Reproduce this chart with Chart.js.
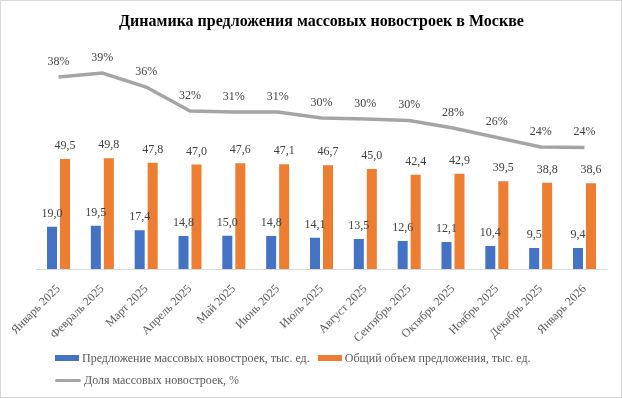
<!DOCTYPE html>
<html>
<head>
<meta charset="utf-8">
<script src="https://cdn.jsdelivr.net/npm/chart.js@4"></script>
<style>
  body { margin: 0; background: #fff; }
  #wrap { position: relative; width: 622px; height: 398px; box-sizing: border-box; border: 1px solid #d9d9d9; background: #fff; }
  #chart { position: absolute; left: 0; top: 0; }
  .legend-row { position: absolute; left: 54px; height: 16px; line-height: 16px; white-space: nowrap;
    font: 12px 'Liberation Serif', 'Times New Roman', serif; color: #595959; }
  .legend-row span.item { display: inline-block; margin-right: 5px; }
  .sw { display: inline-block; vertical-align: middle; margin-right: 3px; position: relative; top: -1px; }
</style>
</head>
<body>
<div id="wrap">
  <canvas id="chart" width="620" height="396"></canvas>
  <div class="legend-row" style="top:350px">
    <span class="item"><span class="sw" style="width:24px;height:6px;background:#4472C4"></span>Предложение массовых новостроек, тыс. ед.</span>
    <span class="item"><span class="sw" style="width:24px;height:6px;background:#ED7D31"></span>Общий объем предложения, тыс. ед.</span>
  </div>
  <div class="legend-row" style="top:372px">
    <span class="item"><span class="sw" style="width:26px;height:3px;background:#A5A5A5;border-radius:2px"></span>Доля массовых новостроек, %</span>
  </div>
</div>
<script>
// данные графика
const months = ['Январь 2025', 'Февраль 2025', 'Март 2025', 'Апрель 2025', 'Май 2025', 'Июнь 2025',
    'Июль 2025', 'Август 2025', 'Сентябрь 2025', 'Октябрь 2025', 'Ноябрь 2025', 'Декабрь 2025', 'Январь 2026'];
const massSupply = [19.0, 19.5, 17.4, 14.8, 15.0, 14.8, 14.1, 13.5, 12.6, 12.1, 10.4, 9.5, 9.4];
const totalSupply = [49.5, 49.8, 47.8, 47.0, 47.6, 47.1, 46.7, 45.0, 42.4, 42.9, 39.5, 38.8, 38.6];
const massShare = [38.4, 39.2, 36.4, 31.6, 31.4, 31.4, 30.2, 30.0, 29.7, 28.2, 26.3, 24.4, 24.3];

const serif = "'Liberation Serif', 'Times New Roman', serif";

// value labels over bars and line points
const valueLabels = {
    id: 'valueLabels',
    afterDatasetsDraw(chart) {
        const ctx = chart.ctx;
        ctx.save();
        ctx.font = '12px ' + serif;
        ctx.fillStyle = '#404040';
        ctx.textAlign = 'center';
        ctx.textBaseline = 'middle';
        chart.data.datasets.forEach((ds, i) => {
            const meta = chart.getDatasetMeta(i);
            meta.data.forEach((el, j) => {
                const v = ds.data[j];
                if (ds.type === 'line') {
                    ctx.fillText(Math.round(v) + '%', el.x, el.y - 15.5);
                } else {
                    ctx.fillText(v.toFixed(1).replace('.', ','), el.x, el.y - 13);
                }
            });
        });
        ctx.restore();
    }
};

new Chart(document.getElementById('chart'), {
    type: 'bar',
    data: {
        labels: months,
        datasets: [
            {
                label: 'Предложение массовых новостроек, тыс. ед.',
                data: massSupply,
                backgroundColor: '#4472C4',
                yAxisID: 'y',
                categoryPercentage: 0.593,
                barPercentage: 0.77,
                order: 2
            },
            {
                label: 'Общий объем предложения, тыс. ед.',
                data: totalSupply,
                backgroundColor: '#ED7D31',
                yAxisID: 'y',
                categoryPercentage: 0.593,
                barPercentage: 0.77,
                order: 2
            },
            {
                type: 'line',
                label: 'Доля массовых новостроек, %',
                data: massShare,
                borderColor: '#A5A5A5',
                borderWidth: 3.5,
                pointRadius: 0,
                tension: 0,
                fill: false,
                yAxisID: 'y1',
                order: 1
            }
        ]
    },
    options: {
        responsive: false,
        animation: false,
        layout: { padding: { left: 35.6, right: 14.6, top: 0, bottom: 0 } },
        plugins: {
            legend: { display: false },
            tooltip: { enabled: false },
            title: {
                display: true,
                text: 'Динамика предложения массовых новостроек в Москве',
                color: '#000',
                font: { family: serif, size: 16, weight: 'bold' },
                padding: { top: 11, bottom: 37.8 }
            }
        },
        scales: {
            x: {
                grid: { display: false },
                border: { display: true, color: '#d9d9d9', width: 1 },
                ticks: {
                    color: '#595959',
                    font: { family: serif, size: 12 },
                    minRotation: 45,
                    maxRotation: 45,
                    padding: 5,
                    autoSkip: false
                },
                afterFit(scale) {
                    scale.height = 128;
                    scale.paddingLeft = 0;
                    scale.paddingRight = 0;
                }
            },
            y: { display: false, min: 0, max: 90 },
            y1: { display: false, min: 0, max: 40, position: 'right' }
        }
    },
    plugins: [valueLabels]
});
</script>
</body>
</html>
